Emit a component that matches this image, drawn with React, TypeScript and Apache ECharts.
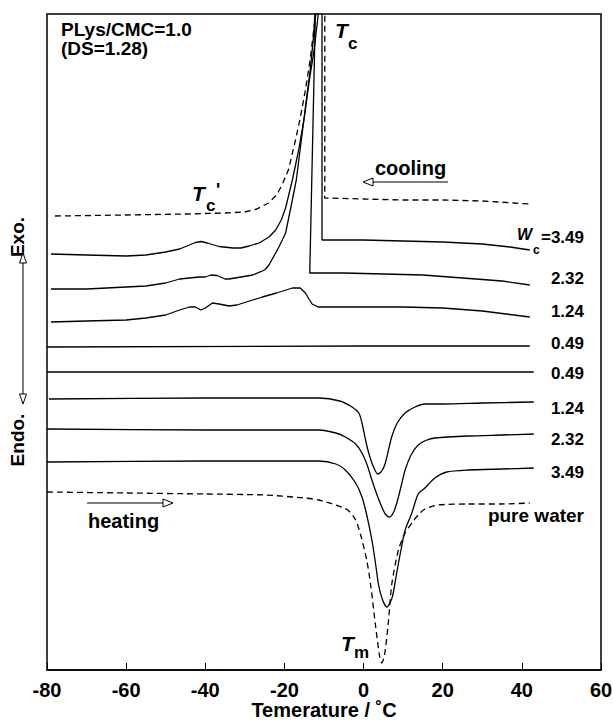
import React, { useEffect, useRef } from "react";
import * as echarts from "echarts";

// Temperature axis
const X_MIN = -80;
const X_MAX = 60;
const X_STEP = 20;
// Heat-flow axis (arbitrary units, curves offset vertically)
const Y_MIN = 0;
const Y_MAX = 65.6;

// Cooling curves [temperature °C, heat flow a.u.]
const coolWater: [number, number][] = [
  [-78, 45.4], [-60, 45.5], [-45, 45.6], [-35, 45.7], [-30, 45.8], [-27, 46.1],
  [-24, 46.7], [-22, 47.5], [-20.6, 48.5], [-19, 50.0], [-17.2, 53.0], [-16, 55.2],
  [-14.7, 58.0], [-13.5, 61.0], [-12.6, 64.0], [-11.6, 67.0], [-9.8, 67.0],
  [-9.8, 47.2], [0, 47.1], [10, 47.0], [20, 47.0], [30, 46.9], [38, 46.7], [42, 46.6],
];
const cool349: [number, number][] = [
  [-79, 41.6], [-70, 41.5], [-60, 41.4], [-55, 41.5], [-50, 41.8], [-46.5, 42.1],
  [-44, 42.5], [-42.5, 42.75], [-41, 42.85], [-39.5, 42.7], [-36.5, 42.35], [-33, 42.2],
  [-31, 42.2], [-28.9, 42.4], [-26.4, 42.7], [-23.9, 43.3], [-22.2, 44.0], [-20.8, 45.0],
  [-19.7, 46.2], [-18, 49.0], [-16.4, 52.0], [-15, 55.2], [-13.8, 58.7], [-12.5, 62.0],
  [-11.7, 64.7], [-11.1, 67.0], [-10.5, 67.0], [-10.5, 43.0], [0, 43.0], [10, 42.9],
  [20, 42.8], [30, 42.6], [37, 42.3], [42, 42.0],
];
const cool232: [number, number][] = [
  [-79, 38.1], [-70, 38.1], [-60, 38.3], [-55, 38.4], [-50, 38.7], [-46.5, 39.1],
  [-44, 39.2], [-41.5, 39.3], [-40, 39.3], [-38.6, 39.5], [-37, 39.45], [-35, 39.1],
  [-34, 39.1], [-31, 39.3], [-28, 39.5], [-25, 40.0], [-23.9, 40.5], [-21.4, 42.3],
  [-19.7, 43.7], [-18, 47.0], [-17, 49.0], [-15.5, 53.7], [-14.3, 57.5], [-13.4, 60.3],
  [-12.6, 63.5], [-12.1, 67.0], [-13.6, 39.7], [-5, 39.7], [5, 39.6], [15, 39.5],
  [25, 39.2], [35, 38.9], [42, 38.5],
];
const cool124: [number, number][] = [
  [-79, 34.8], [-70, 34.9], [-60, 35.0], [-55, 35.2], [-50, 35.5], [-46.5, 36.0],
  [-44, 36.3], [-42.5, 36.3], [-41.1, 36.0], [-40, 36.2], [-38.2, 36.7], [-36.5, 36.6],
  [-34, 36.4], [-32, 36.5], [-28, 37.0], [-25.6, 37.3], [-22, 37.7], [-18, 38.2],
  [-16, 38.2], [-14.7, 37.7], [-13.8, 37.1], [-13, 36.6], [-11.5, 36.3], [-8, 36.3],
  [0, 36.3], [10, 36.3], [20, 36.2], [30, 35.9], [36, 35.6], [42, 35.3],
];
const cool049: [number, number][] = [[-80, 32.3], [0, 32.4], [42, 32.4]];

// Heating curves
const heat049: [number, number][] = [[-80, 29.8], [43, 29.8]];
const heat124: [number, number][] = [
  [-79.5, 27.1], [-40, 27.2], [-20, 27.2], [-11.3, 27.2], [-6, 26.9], [-2.9, 26.3],
  [-1.2, 25.7], [-0.4, 24.7], [0.5, 23.0], [1.3, 21.7], [2.5, 20.3], [3.6, 19.6],
  [4.6, 19.9], [5.5, 20.7], [7.1, 23.3], [8.5, 24.7], [10.5, 25.7], [13, 26.3],
  [15.5, 26.6], [20, 26.6], [30, 26.7], [43, 26.8],
];
const heat232: [number, number][] = [
  [-80, 24.1], [-40, 24.0], [-20, 24.0], [-11.3, 24.0], [-7, 23.7], [-4.6, 23.3],
  [-2, 22.6], [-0.4, 21.7], [1, 20.4], [2.1, 19.0], [3.5, 17.4], [4.6, 16.3],
  [5.5, 15.6], [6.5, 15.3], [7.5, 15.7], [8.4, 16.7], [9.5, 18.4], [10.5, 20.0],
  [12, 21.5], [13.8, 22.5], [16, 23.0], [18, 23.2], [26.4, 23.4], [35, 23.5], [43, 23.6],
];
const heat349: [number, number][] = [
  [-80, 20.8], [-40, 20.9], [-20, 20.9], [-11.3, 20.9], [-7, 20.6], [-4.6, 20.0],
  [-2, 18.7], [-0.4, 17.3], [0.8, 15.5], [2.1, 13.0], [3, 10.7], [3.8, 8.5],
  [4.8, 7.0], [5.9, 6.3], [7, 7.0], [7.5, 7.7], [8.5, 10.0], [9.6, 12.3],
  [10.5, 14.0], [12.2, 15.7], [13.8, 17.6], [15.5, 18.2], [18, 19.2], [21, 19.8],
  [26.4, 20.0], [35, 20.1], [43, 20.2],
];
const heatWater: [number, number][] = [
  [-80, 17.8], [-60, 17.7], [-40, 17.6], [-25, 17.5], [-15, 17.2], [-11.3, 17.0],
  [-7, 16.5], [-4, 16.0], [-2, 15.0], [-0.6, 13.3], [0.8, 11.0], [1.8, 8.5],
  [3, 4.5], [4, 1.5], [4.6, 0.7], [5.3, 1.5], [6.2, 4.5], [7.1, 8.5], [8.8, 12.0],
  [10.5, 13.7], [12.2, 14.7], [13.8, 15.5], [15.5, 16.1], [18.9, 16.5], [26.4, 16.6],
  [35, 16.6], [42, 16.7],
];

// Curve labels at the right end (Wc values)
const rightLabels: string[] = ["2.32", "1.24", "0.49", "0.49", "1.24", "2.32", "3.49"];

const FONT = "'Liberation Sans', Arial, Helvetica, sans-serif";

export default function App() {
  const ref = useRef<HTMLDivElement>(null);

  useEffect(() => {
    document.body.style.margin = "0";
    const chart = echarts.init(ref.current!, null, { renderer: "svg" });

    const mk = (name: string, data: [number, number][], dashed: boolean, smooth: boolean) => ({
      name,
      type: "line",
      data,
      showSymbol: false,
      symbol: "none",
      smooth: smooth ? 0.25 : false,
      clip: true,
      lineStyle: { color: "#000", width: 1.3, type: dashed ? [6, 4] : "solid" },
      z: 3,
    });

    const t = (text: string, x: number, y: number, size: number, opts: any = {}) => ({
      type: "text",
      x,
      y,
      rotation: opts.rotation || 0,
      z: 10,
      style: {
        text,
        font: `${opts.italic ? "italic " : ""}bold ${size}px ${FONT}`,
        fill: "#000",
        align: opts.align || "left",
        verticalAlign: opts.valign || "middle",
        lineHeight: opts.lineHeight,
      },
    });

    const line = (x1: number, y1: number, x2: number, y2: number) => ({
      type: "line",
      z: 10,
      shape: { x1, y1, x2, y2 },
      style: { stroke: "#000", lineWidth: 1 },
    });
    const tri = (pts: number[][]) => ({
      type: "polygon",
      z: 10,
      shape: { points: pts },
      style: { fill: "#fff", stroke: "#000", lineWidth: 1 },
    });

    const labelYs = [278, 311, 343, 373, 408, 439, 472];

    chart.setOption({
      animation: false,
      backgroundColor: "#fff",
      grid: {
        left: 47,
        right: 12,
        top: 14,
        bottom: 51,
        outerBoundsMode: "none",
        containLabel: false,
        show: true,
        borderColor: "#000",
        borderWidth: 1.5,
        backgroundColor: "transparent",
      },
      xAxis: {
        type: "value",
        min: X_MIN,
        max: X_MAX,
        interval: X_STEP,
        name: "Temerature / ˚C",
        nameLocation: "middle",
        nameGap: 30,
        nameMoveOverlap: false,
        nameTextStyle: { color: "#000", fontFamily: FONT, fontWeight: "bold", fontSize: 20, lineHeight: 20 },
        axisLine: { show: true, lineStyle: { color: "#000", width: 1.5 } },
        axisTick: { show: true, inside: true, length: 7, lineStyle: { color: "#000", width: 1 } },
        axisLabel: { color: "#000", fontFamily: FONT, fontWeight: "bold", fontSize: 20, margin: 10 },
        splitLine: { show: false },
      },
      yAxis: {
        type: "value",
        min: Y_MIN,
        max: Y_MAX,
        axisLine: { show: false },
        axisTick: { show: false },
        axisLabel: { show: false },
        splitLine: { show: false },
      },
      series: [
        mk("cooling pure water", coolWater, true, false),
        mk("cooling Wc=3.49", cool349, false, false),
        mk("cooling Wc=2.32", cool232, false, false),
        mk("cooling Wc=1.24", cool124, false, false),
        mk("cooling Wc=0.49", cool049, false, false),
        mk("heating Wc=0.49", heat049, false, false),
        mk("heating Wc=1.24", heat124, false, true),
        mk("heating Wc=2.32", heat232, false, true),
        mk("heating Wc=3.49", heat349, false, true),
        mk("heating pure water", heatWater, true, true),
      ],
      graphic: [
        t("PLys/CMC=1.0\n(DS=1.28)", 61, 20, 19, { valign: "top", lineHeight: 19 }),
        t("T", 335, 30, 21, { italic: true }),
        t("c", 348, 43, 17),
        t("T", 192, 193, 21, { italic: true }),
        t("c", 206, 205, 17),
        t("'", 216, 190, 18),
        t("T", 341, 643, 21, { italic: true }),
        t("m", 354, 652, 17),
        t("cooling", 375, 168, 20),
        line(448, 182, 372, 182),
        tri([[363, 182], [373, 178], [373, 186]]),
        t("heating", 88, 521, 20),
        line(87, 503, 164, 503),
        tri([[173, 503], [163, 499], [163, 507]]),
        t("W", 517, 234, 16, { italic: true }),
        t("c", 533, 250, 12),
        t("=3.49", 584, 237, 17, { align: "right" }),
        ...rightLabels.map((s, i) => t(s, 584, labelYs[i], 17, { align: "right" })),
        t("pure water", 584, 515, 19, { align: "right" }),
        t("Exo.", 17, 237, 19, { align: "center", rotation: Math.PI / 2 }),
        t("Endo.", 17, 440, 19, { align: "center", rotation: Math.PI / 2 }),
        line(23, 262, 23, 395),
        tri([[23, 253], [19.5, 263], [26.5, 263]]),
        tri([[23, 404], [19.5, 394], [26.5, 394]]),
      ],
    });

    return () => chart.dispose();
  }, []);

  return <div ref={ref} style={{ width: 613, height: 721 }} />;
}
